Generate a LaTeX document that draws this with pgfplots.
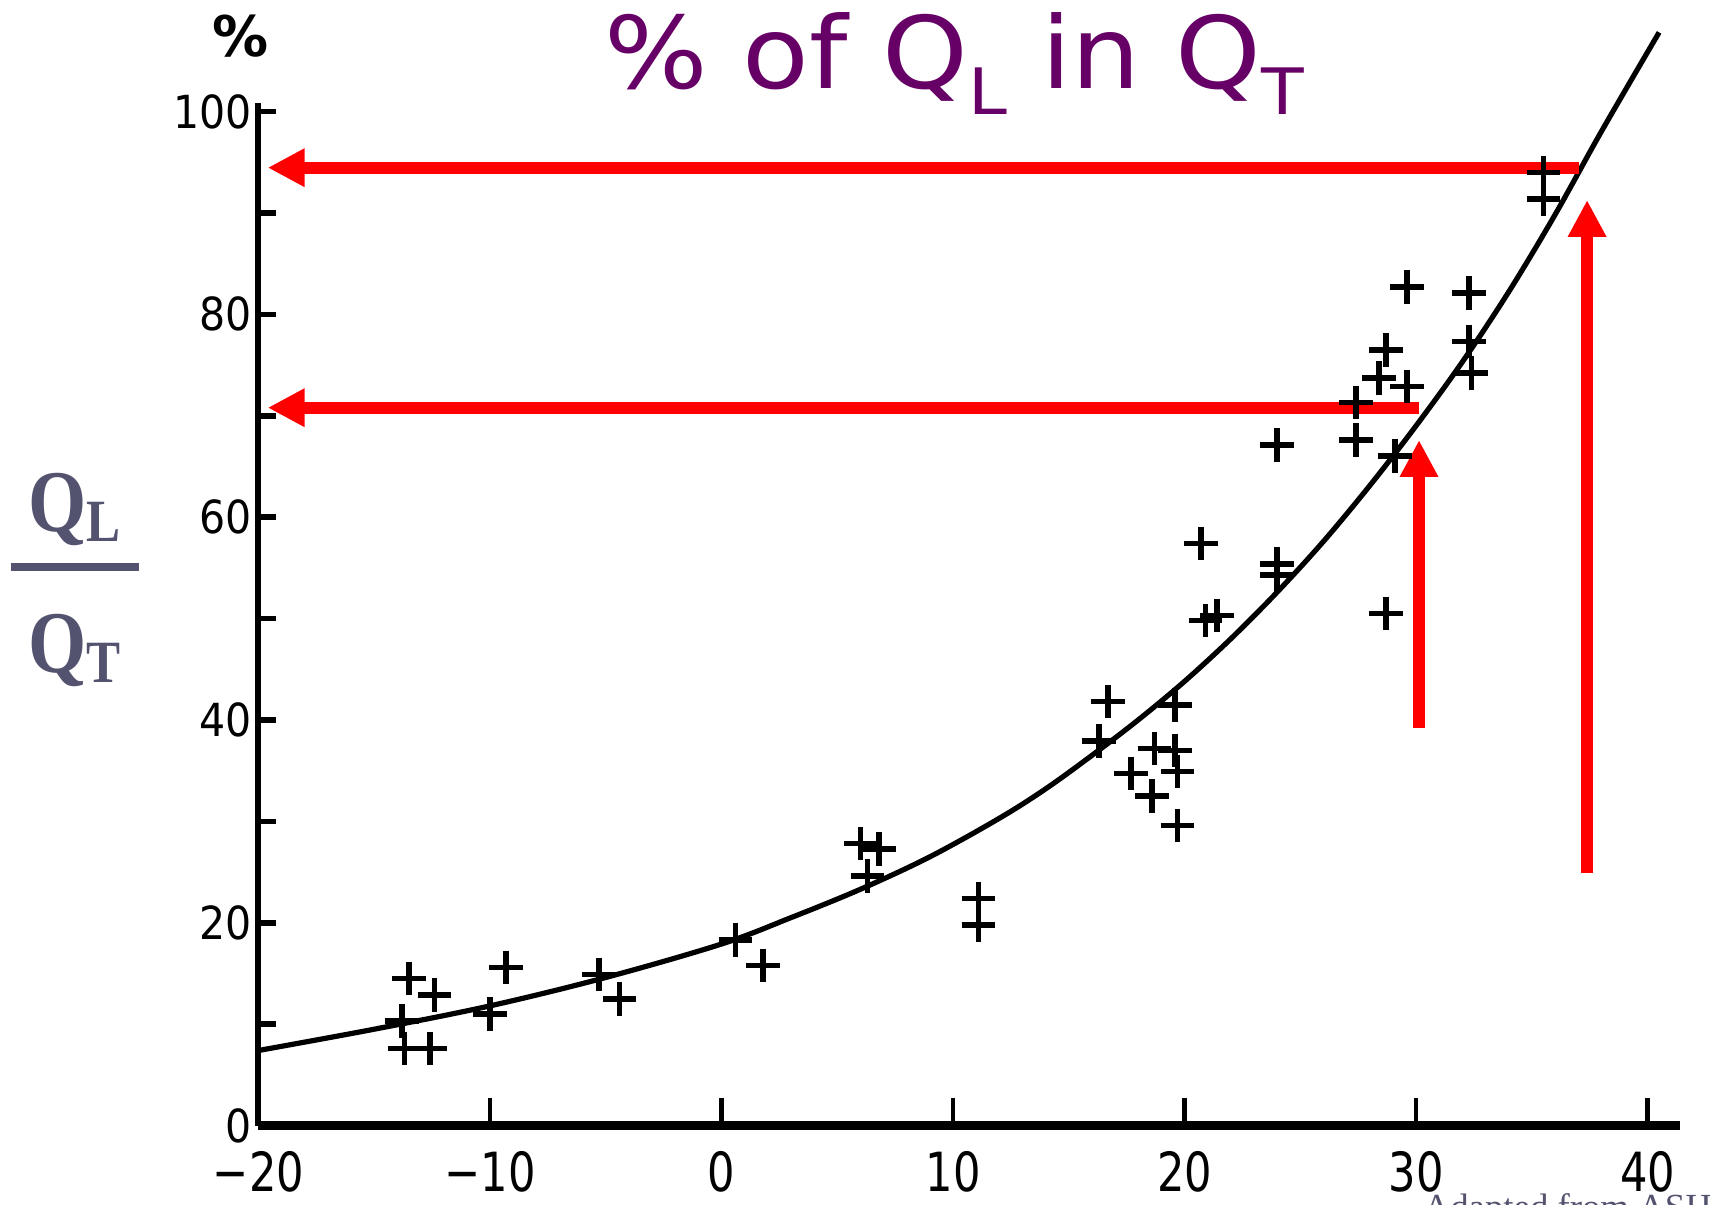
\documentclass[border=0pt]{standalone}
\usepackage{pgfplots}
\pgfplotsset{compat=1.18}
\usetikzlibrary{arrows.meta}
\usepackage{fontspec}
\setmainfont{DejaVu Sans}
\newfontfamily\titlefont[FakeStretch=1.09]{DejaVu Sans}
\newfontfamily\labfont[FakeStretch=0.85]{Liberation Serif}
\newfontfamily\footfont{Liberation Serif}
\newfontfamily\xtickfont[FakeStretch=0.8]{DejaVu Sans}
\newfontfamily\ytickfont[FakeStretch=0.9]{DejaVu Sans}
\definecolor{titlepurple}{RGB}{102,0,102}
\definecolor{slate}{RGB}{83,83,112}
\definecolor{arrowred}{RGB}{255,0,0}

\begin{document}
\begin{tikzpicture}
\useasboundingbox (-64.625pt,-19.625pt) rectangle (362.875pt,281.375pt);
\begin{axis}[
  at={(0pt,0pt)}, anchor=south west,
  x=5.7875pt, y=2.535pt,
  xmin=-20, xmax=41.4, ymin=0, ymax=100.8,
  axis lines=left,
  axis line style={-},
  x axis line style={line width=2.2pt},
  y axis line style={line width=1.5pt},
  clip=false,
  tick align=inside,
  xtick={-20,-10,0,10,20,30,40},
  xticklabels={−20,−10,0,10,20,30,40},
  ytick={0,20,40,60,80,100},
  yticklabels={0,20,40,60,80,100},
  minor ytick={10,30,50,70,90},
  xtick style={/pgfplots/major tick length=7pt, line width=1.2pt, black},
  ytick style={/pgfplots/major tick length=4.3pt, line width=1.4pt, black},
  minor tick length=4.3pt,
  minor tick style={line width=1.4pt, black},
  xticklabel style={font=\xtickfont\fontsize{13.5}{14}\selectfont, inner sep=0pt, anchor=north, yshift=-6.3pt},
  yticklabel style={font=\ytickfont\fontsize{11.4}{12}\selectfont, inner sep=0pt, anchor=east, xshift=-1.5pt},
]
% fitted curve
\addplot[black, line width=1.3pt, smooth, tension=0.55] coordinates {
(-20,7.4) (-15,9.5) (-10,11.8) (-5,14.6) (0,17.9) (3,20.5) (6,23.3) (9,26.5)
(12,30.3) (14,33.2) (16,36.5) (18,40.0) (20,43.8) (22,48.0) (24,52.6)
(26,57.6) (28,63.1) (30,69.0) (32,75.3) (34,82.2) (36,89.8) (38,98.0)
(40.5,107.8)
};
% measured points
\addplot[only marks, mark=+, mark size=4.2pt, mark options={line width=1.4pt, black}] coordinates {
(-13.5,14.5) (-12.4,12.9) (-13.8,10.3) (-13.7,7.6) (-12.6,7.6)
(-9.3,15.6) (-10.0,11.0) (-5.3,14.9) (-4.4,12.5) (0.6,18.3) (1.8,15.8)
(6.0,27.8) (6.8,27.3) (6.3,24.6) (11.1,22.4) (11.1,19.8)
(16.7,41.8) (16.3,37.9) (19.6,41.5) (18.7,37.2) (19.6,37.0) (17.7,34.7)
(19.7,34.9) (18.6,32.5) (19.7,29.6)
(20.7,57.4) (20.9,49.8) (21.4,50.3) (24.0,67.1) (24.0,55.4) (24.0,54.3)
(27.4,67.6) (27.4,71.3) (28.7,50.5) (29.1,66.0) (29.6,82.7) (32.3,82.1)
(28.7,76.5) (28.4,73.7) (29.6,72.9) (32.3,77.3) (32.4,74.2)
(35.5,94.0) (35.5,91.4)
};
% red annotation arrows
\draw[arrowred, line width=3pt, -{Triangle[width=9pt,length=9.2pt]}] (axis cs:37.04,94.46) -- (axis cs:-19.6,94.46);
\draw[arrowred, line width=3pt, -{Triangle[width=9pt,length=9.2pt]}] (axis cs:30.13,70.79) -- (axis cs:-19.6,70.79);
\draw[arrowred, line width=3pt, -{Triangle[width=9pt,length=9.2pt]}] (axis cs:30.13,39.25) -- (axis cs:30.13,67.6);
\draw[arrowred, line width=3pt, -{Triangle[width=9pt,length=9.2pt]}] (axis cs:37.39,24.95) -- (axis cs:37.39,91.27);
\end{axis}
% title
\node[anchor=base, inner sep=0pt, text=titlepurple, font=\titlefont\fontsize{25}{30}\selectfont] at (173.9pt,259.15pt)
  {\%\ of Q\raisebox{-6.3pt}{\fontsize{16}{16}\selectfont L} in Q\raisebox{-6.3pt}{\fontsize{16}{16}\selectfont T}};
% unit sign
\node[font=\bfseries\fontsize{14}{15}\selectfont] at (-4.4pt,272.4pt) {\%};
% y label as a fraction
\node[anchor=base, inner sep=0pt, text=slate, font=\labfont\bfseries] at (-46pt,148.4pt)
  {{\fontsize{22}{22}\selectfont Q}{\fontsize{15}{15}\selectfont\raisebox{-2.5pt}{L}}};
\draw[slate, line width=2pt] (-61.9pt,139.65pt) -- (-30pt,139.65pt);
\node[anchor=base, inner sep=0pt, text=slate, font=\labfont\bfseries] at (-46pt,113.2pt)
  {{\fontsize{22}{22}\selectfont Q}{\fontsize{15}{15}\selectfont\raisebox{-2.5pt}{T}}};
% source note, cut by the page edge
\node[anchor=base west, inner sep=0pt, text=slate, font=\footfont\fontsize{9.2}{10}\selectfont] at (291.1pt,-23.4pt) {Adapted from ASHRAE};
\end{tikzpicture}
\end{document}
